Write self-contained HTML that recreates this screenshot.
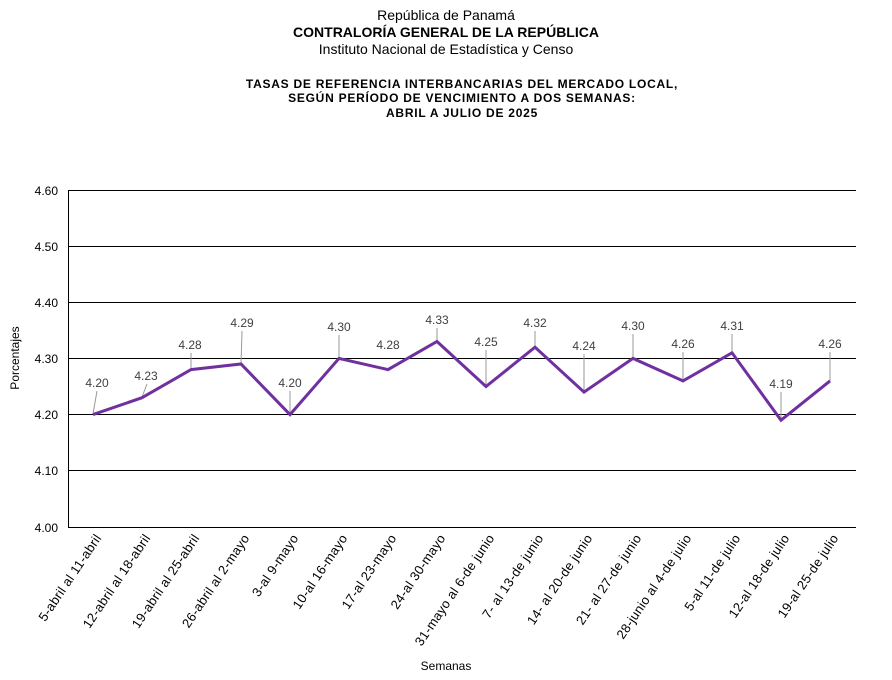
<!DOCTYPE html>
<html><head><meta charset="utf-8"><style>
body{margin:0;background:#fff;}
svg{display:block;font-family:"Liberation Sans",sans-serif;}
</style></head><body>
<svg width="892" height="680" viewBox="0 0 892 680">
<text x="446" y="20" font-size="14" text-anchor="middle">República de Panamá</text>
<text x="446" y="37" font-size="14" font-weight="bold" text-anchor="middle">CONTRALORÍA GENERAL DE LA REPÚBLICA</text>
<text x="446" y="54" font-size="14" text-anchor="middle">Instituto Nacional de Estadística y Censo</text>
<text x="462" y="88" font-size="12" font-weight="bold" text-anchor="middle" letter-spacing="0.75">TASAS DE REFERENCIA INTERBANCARIAS DEL MERCADO LOCAL,</text>
<text x="462" y="102" font-size="12" font-weight="bold" text-anchor="middle" letter-spacing="0.75">SEGÚN PERÍODO DE VENCIMIENTO A DOS SEMANAS:</text>
<text x="462" y="117" font-size="12" font-weight="bold" text-anchor="middle" letter-spacing="0.75">ABRIL A JULIO DE 2025</text>
<g stroke="#000" stroke-width="1">
<line x1="68" y1="190.5" x2="856" y2="190.5"/>
<line x1="68" y1="246.5" x2="856" y2="246.5"/>
<line x1="68" y1="302.5" x2="856" y2="302.5"/>
<line x1="68" y1="358.5" x2="856" y2="358.5"/>
<line x1="68" y1="414.5" x2="856" y2="414.5"/>
<line x1="68" y1="470.5" x2="856" y2="470.5"/>
<line x1="68" y1="527.5" x2="856" y2="527.5"/>
<line x1="68.5" y1="190" x2="68.5" y2="527"/>
</g>
<g font-size="12" text-anchor="end">
<text x="58" y="195">4.60</text><text x="58" y="251">4.50</text><text x="58" y="307">4.40</text>
<text x="58" y="363">4.30</text><text x="58" y="419">4.20</text><text x="58" y="475">4.10</text><text x="58" y="532">4.00</text>
</g>
<text transform="translate(19,358) rotate(-90)" font-size="12" text-anchor="middle">Porcentajes</text>
<text x="446" y="670" font-size="12" text-anchor="middle">Semanas</text>
<g stroke="#999" stroke-width="1">
<line x1="97" y1="391" x2="93" y2="414"/>
<line x1="147" y1="384" x2="142" y2="397"/>
<line x1="191" y1="353" x2="191" y2="370"/>
<line x1="242" y1="331" x2="241" y2="364"/>
<line x1="290" y1="391" x2="290" y2="414"/>
<line x1="339" y1="335" x2="339" y2="358"/>
<line x1="437" y1="328" x2="437" y2="342"/>
<line x1="486" y1="350" x2="486" y2="386"/>
<line x1="535" y1="331" x2="535" y2="347"/>
<line x1="584" y1="354" x2="584" y2="392"/>
<line x1="633" y1="334" x2="633" y2="358"/>
<line x1="683" y1="352" x2="683" y2="381"/>
<line x1="732" y1="334" x2="732" y2="353"/>
<line x1="781" y1="392" x2="781" y2="420"/>
<line x1="830" y1="352" x2="830" y2="381"/>
</g>
<polyline fill="none" stroke="#7030a0" stroke-width="3" stroke-linejoin="miter" points="93,414.6 142,397.7 191,369.6 241,364 290,414.6 339,358.4 388,369.6 437,341.5 486,386.5 535,347.2 584,392.1 633,358.4 683,380.9 732,352.8 781,420.2 830,380.9"/>
<g font-size="12" fill="#404040" text-anchor="middle">
<text x="97" y="387">4.20</text><text x="146" y="380">4.23</text><text x="190" y="349">4.28</text>
<text x="242" y="327">4.29</text><text x="290" y="387">4.20</text><text x="339" y="331">4.30</text>
<text x="388" y="349">4.28</text><text x="437" y="324">4.33</text><text x="486" y="346">4.25</text>
<text x="535" y="327">4.32</text><text x="584" y="350">4.24</text><text x="633" y="330">4.30</text>
<text x="683" y="348">4.26</text><text x="732" y="330">4.31</text><text x="781" y="388">4.19</text>
<text x="830" y="348">4.26</text>
</g>
<g font-size="13" text-anchor="end" letter-spacing="0.3">
<text transform="translate(102,538) rotate(-56)">5-abril al 11-abril</text>
<text transform="translate(151,538) rotate(-56)">12-abril al 18-abril</text>
<text transform="translate(200,538) rotate(-56)">19-abril al 25-abril</text>
<text transform="translate(250,538) rotate(-56)">26-abril al 2-mayo</text>
<text transform="translate(299,538) rotate(-56)">3-al 9-mayo</text>
<text transform="translate(348,538) rotate(-56)">10-al 16-mayo</text>
<text transform="translate(397,538) rotate(-56)">17-al 23-mayo</text>
<text transform="translate(446,538) rotate(-56)">24-al 30-mayo</text>
<text transform="translate(495,538) rotate(-56)">31-mayo al 6-de junio</text>
<text transform="translate(544,538) rotate(-56)">7- al 13-de junio</text>
<text transform="translate(593,538) rotate(-56)">14- al 20-de junio</text>
<text transform="translate(642,538) rotate(-56)">21- al 27-de junio</text>
<text transform="translate(692,538) rotate(-56)">28-junio al 4-de julio</text>
<text transform="translate(741,538) rotate(-56)">5-al 11-de julio</text>
<text transform="translate(790,538) rotate(-56)">12-al 18-de julio</text>
<text transform="translate(839,538) rotate(-56)">19-al 25-de julio</text>
</g>
</svg>
</body></html>
